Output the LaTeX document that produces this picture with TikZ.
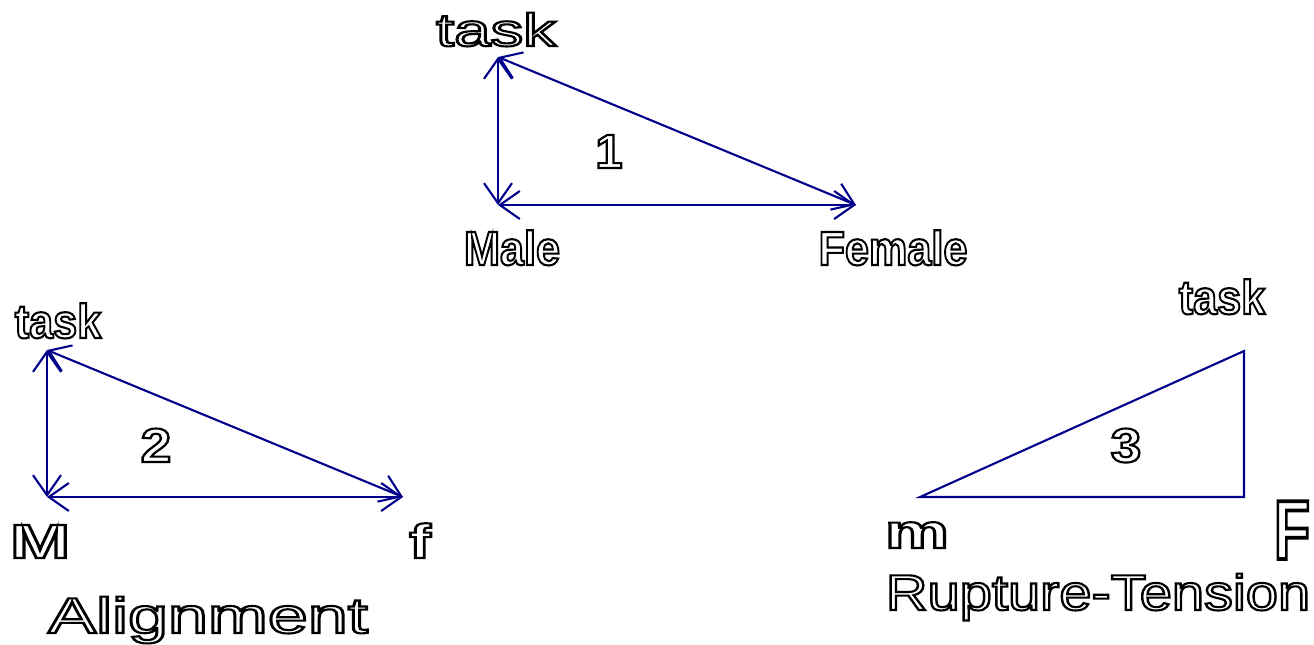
\documentclass[tikz,border=0pt]{standalone}
\usepackage{fontspec}
\setmainfont{Liberation Sans}
\usetikzlibrary{arrows.meta}

\definecolor{azul}{RGB}{0,0,139}
% letras vazadas (só o contorno)
\newcommand\vazado[1]{\special{pdf:literal direct 1 Tr 0.6 w}#1\special{pdf:literal direct 0 Tr}}
\newcommand\esticado[3]{\scalebox{#1}[#2]{\vazado{#3}}}

\begin{document}
\begin{tikzpicture}[x=0.01cm, y=-0.01cm,
        seta/.style={draw=azul, line width=0.6pt, {Straight Barb[length=2mm, width=2.8mm]}-{Straight Barb[length=2mm, width=2.8mm]}},
        linha/.style={draw=azul, line width=0.6pt},
        rotulo/.style={inner sep=0pt, anchor=base, font=\fontsize{13.1}{14}\selectfont},
        negrito/.style={inner sep=0pt, anchor=base, font=\bfseries\fontsize{13.65}{15}\selectfont},
        grande/.style={inner sep=0pt, anchor=base, font=\fontsize{14.3}{16}\selectfont}]

    \useasboundingbox (0,0) rectangle (1314,644);

    % Triângulo 1
    \coordinate (t1) at (498,57);
    \coordinate (m1) at (498,205);
    \coordinate (f1) at (856,205);
    \draw[seta] (t1) -- (m1);
    \draw[seta] (m1) -- (f1);
    \draw[seta] (t1) -- (f1);

    \node (task1) [rotulo] at (496,46) {\esticado{1.42}{1}{task}};
    \node (male) [negrito] at (512,265) {\esticado{0.9}{1}{Male}};
    \node (female) [negrito] at (893,265) {\esticado{0.9}{1}{Female}};
    \node (n1) [negrito] at (609,168) {\esticado{1.02}{1}{1}};

    % Triângulo 2
    \coordinate (t2) at (47,350);
    \coordinate (m2) at (47,497);
    \coordinate (f2) at (403,497);
    \draw[seta] (t2) -- (m2);
    \draw[seta] (m2) -- (f2);
    \draw[seta] (t2) -- (f2);

    \node (task2) [negrito] at (58,338) {\esticado{0.9}{1}{task}};
    \node (M) [negrito] at (40,558) {\esticado{1.5}{1}{M}};
    \node (f) [negrito] at (420,558) {\esticado{1.35}{1}{f}};
    \node (n2) [negrito] at (156,462) {\esticado{1.15}{1}{2}};
    \node (alin) [grande] at (208,633) {\esticado{1.43}{1}{Alignment}};

    % Triângulo 3 (sem setas)
    \coordinate (m3) at (920,497);
    \coordinate (t3) at (1244,351);
    \coordinate (f3) at (1244,497);
    \draw[linha] (m3) -- (t3) -- (f3) -- cycle;

    \node (task3) [negrito] at (1222,314) {\esticado{0.9}{1}{task}};
    \node (m) [negrito] at (917,548) {\esticado{1.5}{1}{m}};
    \node (F) [negrito] at (1292,559) {\esticado{1.23}{1.75}{F}};
    \node (n3) [negrito] at (1126,462) {\esticado{1.15}{1}{3}};
    \node (rup) [grande] at (1098,610) {\esticado{1.15}{1}{Rupture-Tension}};

\end{tikzpicture}
\end{document}
